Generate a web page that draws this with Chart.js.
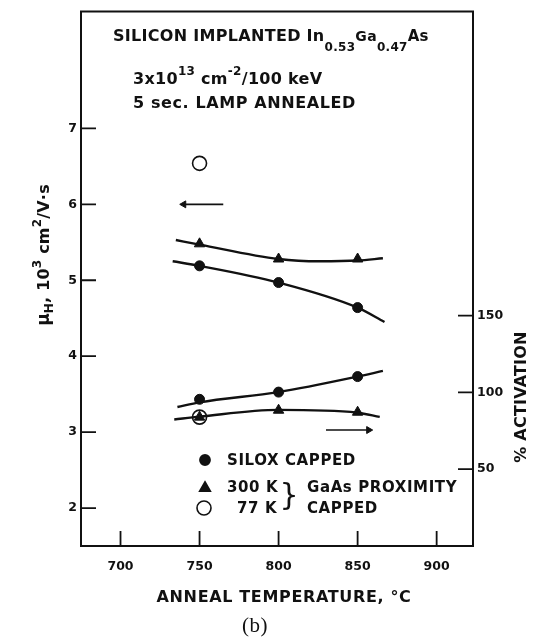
<!DOCTYPE html>
<html>
<head>
<meta charset="utf-8">
<script src="https://cdn.jsdelivr.net/npm/chart.js@4.4.1/dist/chart.umd.min.js"></script>
<style>
    html, body { margin: 0; padding: 0; background: #fff; }
</style>
</head>
<body>
<canvas id="chart" width="534" height="639"></canvas>
<script>
const X_TICKS = [700, 750, 800, 850, 900];
const MOBILITY_TICKS = [2, 3, 4, 5, 6, 7];
const ACTIVATION_TICKS = [50, 100, 150];

// measured points (anneal temperature, value)
const TEMPS = [750, 800, 850];
const siloxMobility = [5.19, 4.97, 4.64];
const proximityMobility = [5.48, 5.28, 5.28];
const siloxActivation = [95.5, 100.2, 110.3];
const proximityActivation = [83.9, 88.4, 87.1];
const mobility77K = [[750, 6.54]];
const activation77K = [[750, 83.9]];

// hand drawn trend curves
const siloxMobilityCurve = [[733, 5.25], [750, 5.19], [800, 4.97], [850, 4.64], [867, 4.45]];
const proximityMobilityCurve = [[735, 5.53], [750, 5.47], [800, 5.28], [826, 5.25], [850, 5.26], [866, 5.29]];
const siloxActivationCurve = [[736, 90.5], [750, 93.5], [800, 100.2], [850, 110.3], [866, 114]];
const proximityActivationCurve = [[734, 82.4], [750, 84.2], [800, 88.6], [850, 86.8], [864, 84.1]];

// axis arrows, [tail, tip]
const mobilityArrow = [[765, 6.0], [740, 6.0]];
const activationArrow = [[830, 75.5], [857, 75.5]];

const INK = '#111';
const FONT = '"DejaVu Sans", sans-serif';
const TICK_LEN = 15;

const pts = (xs, ys) => xs.map((x, i) => ({ x, y: ys[i] }));
const pairs = (arr) => arr.map(([x, y]) => ({ x, y }));

function curve(data, axis) {
    return {
        data: pairs(data),
        yAxisID: axis,
        showLine: true,
        borderColor: INK,
        borderWidth: 2.4,
        pointRadius: 0,
        cubicInterpolationMode: 'monotone',
    };
}

function markers(data, axis, style, radius, open) {
    return {
        data,
        yAxisID: axis,
        showLine: false,
        pointStyle: style,
        pointRadius: radius,
        pointBorderWidth: open ? 1.6 : 1,
        borderColor: INK,
        backgroundColor: open ? 'rgba(0,0,0,0)' : INK,
    };
}

function arrow(data, axis, rotation) {
    return {
        data: pairs(data),
        yAxisID: axis,
        showLine: true,
        borderColor: INK,
        borderWidth: 1.6,
        pointStyle: 'triangle',
        pointRadius: [0, 4],
        pointRotation: [0, rotation],
        pointBorderWidth: 1,
        backgroundColor: INK,
    };
}

const datasets = [
    curve(siloxMobilityCurve, 'y'),
    curve(proximityMobilityCurve, 'y'),
    curve(siloxActivationCurve, 'y2'),
    curve(proximityActivationCurve, 'y2'),
    markers(pts(TEMPS, siloxMobility), 'y', 'circle', 5, false),
    markers(pts(TEMPS, proximityMobility), 'y', 'triangle', 6, false),
    markers(pts(TEMPS, siloxActivation), 'y2', 'circle', 5, false),
    markers(pts(TEMPS, proximityActivation), 'y2', 'triangle', 6, false),
    markers(pairs(mobility77K), 'y', 'circle', 7, true),
    markers(pairs(activation77K), 'y2', 'circle', 7, true),
    arrow(mobilityArrow, 'y', -90),
    arrow(activationArrow, 'y2', 90),
];

function runsWidth(ctx, runs, spacing) {
    let w = 0;
    for (const r of runs) {
        ctx.font = `${r.weight || 'bold'} ${r.size}px ${FONT}`;
        ctx.letterSpacing = `${spacing}px`;
        w += ctx.measureText(r.t).width;
    }
    return w;
}

function drawRuns(ctx, x, y, runs, spacing = 0) {
    let cx = x;
    ctx.textBaseline = 'alphabetic';
    ctx.textAlign = 'left';
    for (const r of runs) {
        ctx.font = `${r.weight || 'bold'} ${r.size}px ${FONT}`;
        ctx.letterSpacing = `${spacing}px`;
        ctx.fillText(r.t, cx, y + (r.dy || 0));
        cx += ctx.measureText(r.t).width;
    }
}

function drawRotated(ctx, cx, baseline, runs, spacing) {
    const w = runsWidth(ctx, runs, spacing);
    ctx.save();
    ctx.translate(baseline, cx);
    ctx.rotate(-Math.PI / 2);
    drawRuns(ctx, -w / 2, 0, runs, spacing);
    ctx.restore();
}

const paperPlugin = {
    id: 'paper',
    beforeDraw(chart) {
        const { ctx, width, height } = chart;
        ctx.save();
        ctx.fillStyle = '#fff';
        ctx.fillRect(0, 0, width, height);
        ctx.restore();
    },
    afterDraw(chart) {
        const { ctx, chartArea: a, scales } = chart;
        ctx.save();
        ctx.strokeStyle = INK;
        ctx.fillStyle = INK;

        ctx.lineWidth = 2;
        ctx.strokeRect(a.left, a.top, a.right - a.left, a.bottom - a.top);

        // inward tick marks
        ctx.lineWidth = 1.8;
        ctx.beginPath();
        for (const v of X_TICKS) {
            const px = scales.x.getPixelForValue(v);
            ctx.moveTo(px, a.bottom);
            ctx.lineTo(px, a.bottom - TICK_LEN);
        }
        for (const v of MOBILITY_TICKS) {
            const py = scales.y.getPixelForValue(v);
            ctx.moveTo(a.left, py);
            ctx.lineTo(a.left + TICK_LEN, py);
        }
        for (const v of ACTIVATION_TICKS) {
            const py = scales.y2.getPixelForValue(v);
            ctx.moveTo(a.right, py);
            ctx.lineTo(a.right - TICK_LEN, py);
        }
        ctx.stroke();

        // header notes
        drawRuns(ctx, 113, 41, [
            { t: 'SILICON IMPLANTED In', size: 16 },
            { t: '0.53', size: 12, dy: 10 },
            { t: 'Ga', size: 14 },
            { t: '0.47', size: 12, dy: 10 },
            { t: 'As', size: 15 },
        ], 0.3);
        drawRuns(ctx, 133, 83.5, [
            { t: '3x10', size: 16 },
            { t: '13', size: 12, dy: -9 },
            { t: ' cm', size: 16 },
            { t: '-2', size: 12, dy: -9 },
            { t: '/100 keV', size: 16 },
        ], 0.3);
        drawRuns(ctx, 133, 108, [{ t: '5 sec. LAMP ANNEALED', size: 16 }], 0.6);

        // key
        const key = Chart.helpers.drawPoint;
        key(ctx, { pointStyle: 'circle', radius: 5, borderWidth: 1 }, 205, 460);
        key(ctx, { pointStyle: 'triangle', radius: 6, borderWidth: 1 }, 205, 488);
        ctx.save();
        ctx.fillStyle = 'rgba(0,0,0,0)';
        ctx.lineWidth = 1.6;
        key(ctx, { pointStyle: 'circle', radius: 7, borderWidth: 1.6 }, 204, 508);
        ctx.restore();
        drawRuns(ctx, 227, 465, [{ t: 'SILOX CAPPED', size: 15 }], 0.6);
        drawRuns(ctx, 227, 492, [{ t: '300 K', size: 15 }], 0.6);
        drawRuns(ctx, 237, 513, [{ t: '77 K', size: 15 }], 0.6);
        drawRuns(ctx, 307, 492, [{ t: 'GaAs PROXIMITY', size: 15 }], 0.6);
        drawRuns(ctx, 307, 513, [{ t: 'CAPPED', size: 15 }], 0.6);
        ctx.font = `normal 30px ${FONT}`;
        ctx.letterSpacing = '0px';
        ctx.textAlign = 'center';
        ctx.textBaseline = 'middle';
        ctx.fillText('}', 289, 497);

        // axis titles
        const xTitle = [{ t: 'ANNEAL TEMPERATURE, °C', size: 16 }];
        const xw = runsWidth(ctx, xTitle, 0.65);
        drawRuns(ctx, 284 - xw / 2, 602, xTitle, 0.65);

        drawRotated(ctx, 255, 49, [
            { t: 'μ', size: 17 },
            { t: 'H', size: 12, dy: 4 },
            { t: ', 10', size: 16 },
            { t: '3', size: 12, dy: -8 },
            { t: ' cm', size: 16 },
            { t: '2', size: 12, dy: -8 },
            { t: '/V·s', size: 16 },
        ], 0.2);
        drawRotated(ctx, 397, 526, [{ t: '% ACTIVATION', size: 16 }], 0.2);

        ctx.font = '21px "Liberation Serif", serif';
        ctx.letterSpacing = '0.5px';
        ctx.textAlign = 'center';
        ctx.textBaseline = 'alphabetic';
        ctx.fillText('(b)', 255, 632);
        ctx.restore();
    },
};

const tickFont = { family: FONT, size: 12.5, weight: 'bold' };
const hidden = { display: false, drawTicks: false };

new Chart(document.getElementById('chart'), {
    type: 'scatter',
    data: { datasets },
    options: {
        responsive: false,
        animation: false,
        events: [],
        layout: { padding: { top: 7, left: 0, right: 0, bottom: 0 } },
        plugins: {
            legend: { display: false },
            tooltip: { enabled: false },
        },
        scales: {
            x: {
                type: 'linear',
                min: 675,
                max: 923,
                grid: hidden,
                border: { display: false },
                afterBuildTicks(s) { s.ticks = X_TICKS.map(value => ({ value })); },
                afterFit(s) { s.height = 93; },
                ticks: { color: INK, font: tickFont, padding: 13 },
            },
            y: {
                position: 'left',
                min: 1.5,
                max: 8.54,
                grid: hidden,
                border: { display: false },
                afterBuildTicks(s) { s.ticks = MOBILITY_TICKS.map(value => ({ value })); },
                afterFit(s) { s.width = 81; },
                ticks: { color: INK, font: tickFont, padding: 4 },
            },
            y2: {
                position: 'right',
                min: 0,
                max: 348,
                grid: hidden,
                border: { display: false },
                afterBuildTicks(s) { s.ticks = ACTIVATION_TICKS.map(value => ({ value })); },
                afterFit(s) { s.width = 61; },
                ticks: { color: INK, font: tickFont, padding: 4 },
            },
        },
    },
    plugins: [paperPlugin],
});
</script>
</body>
</html>
